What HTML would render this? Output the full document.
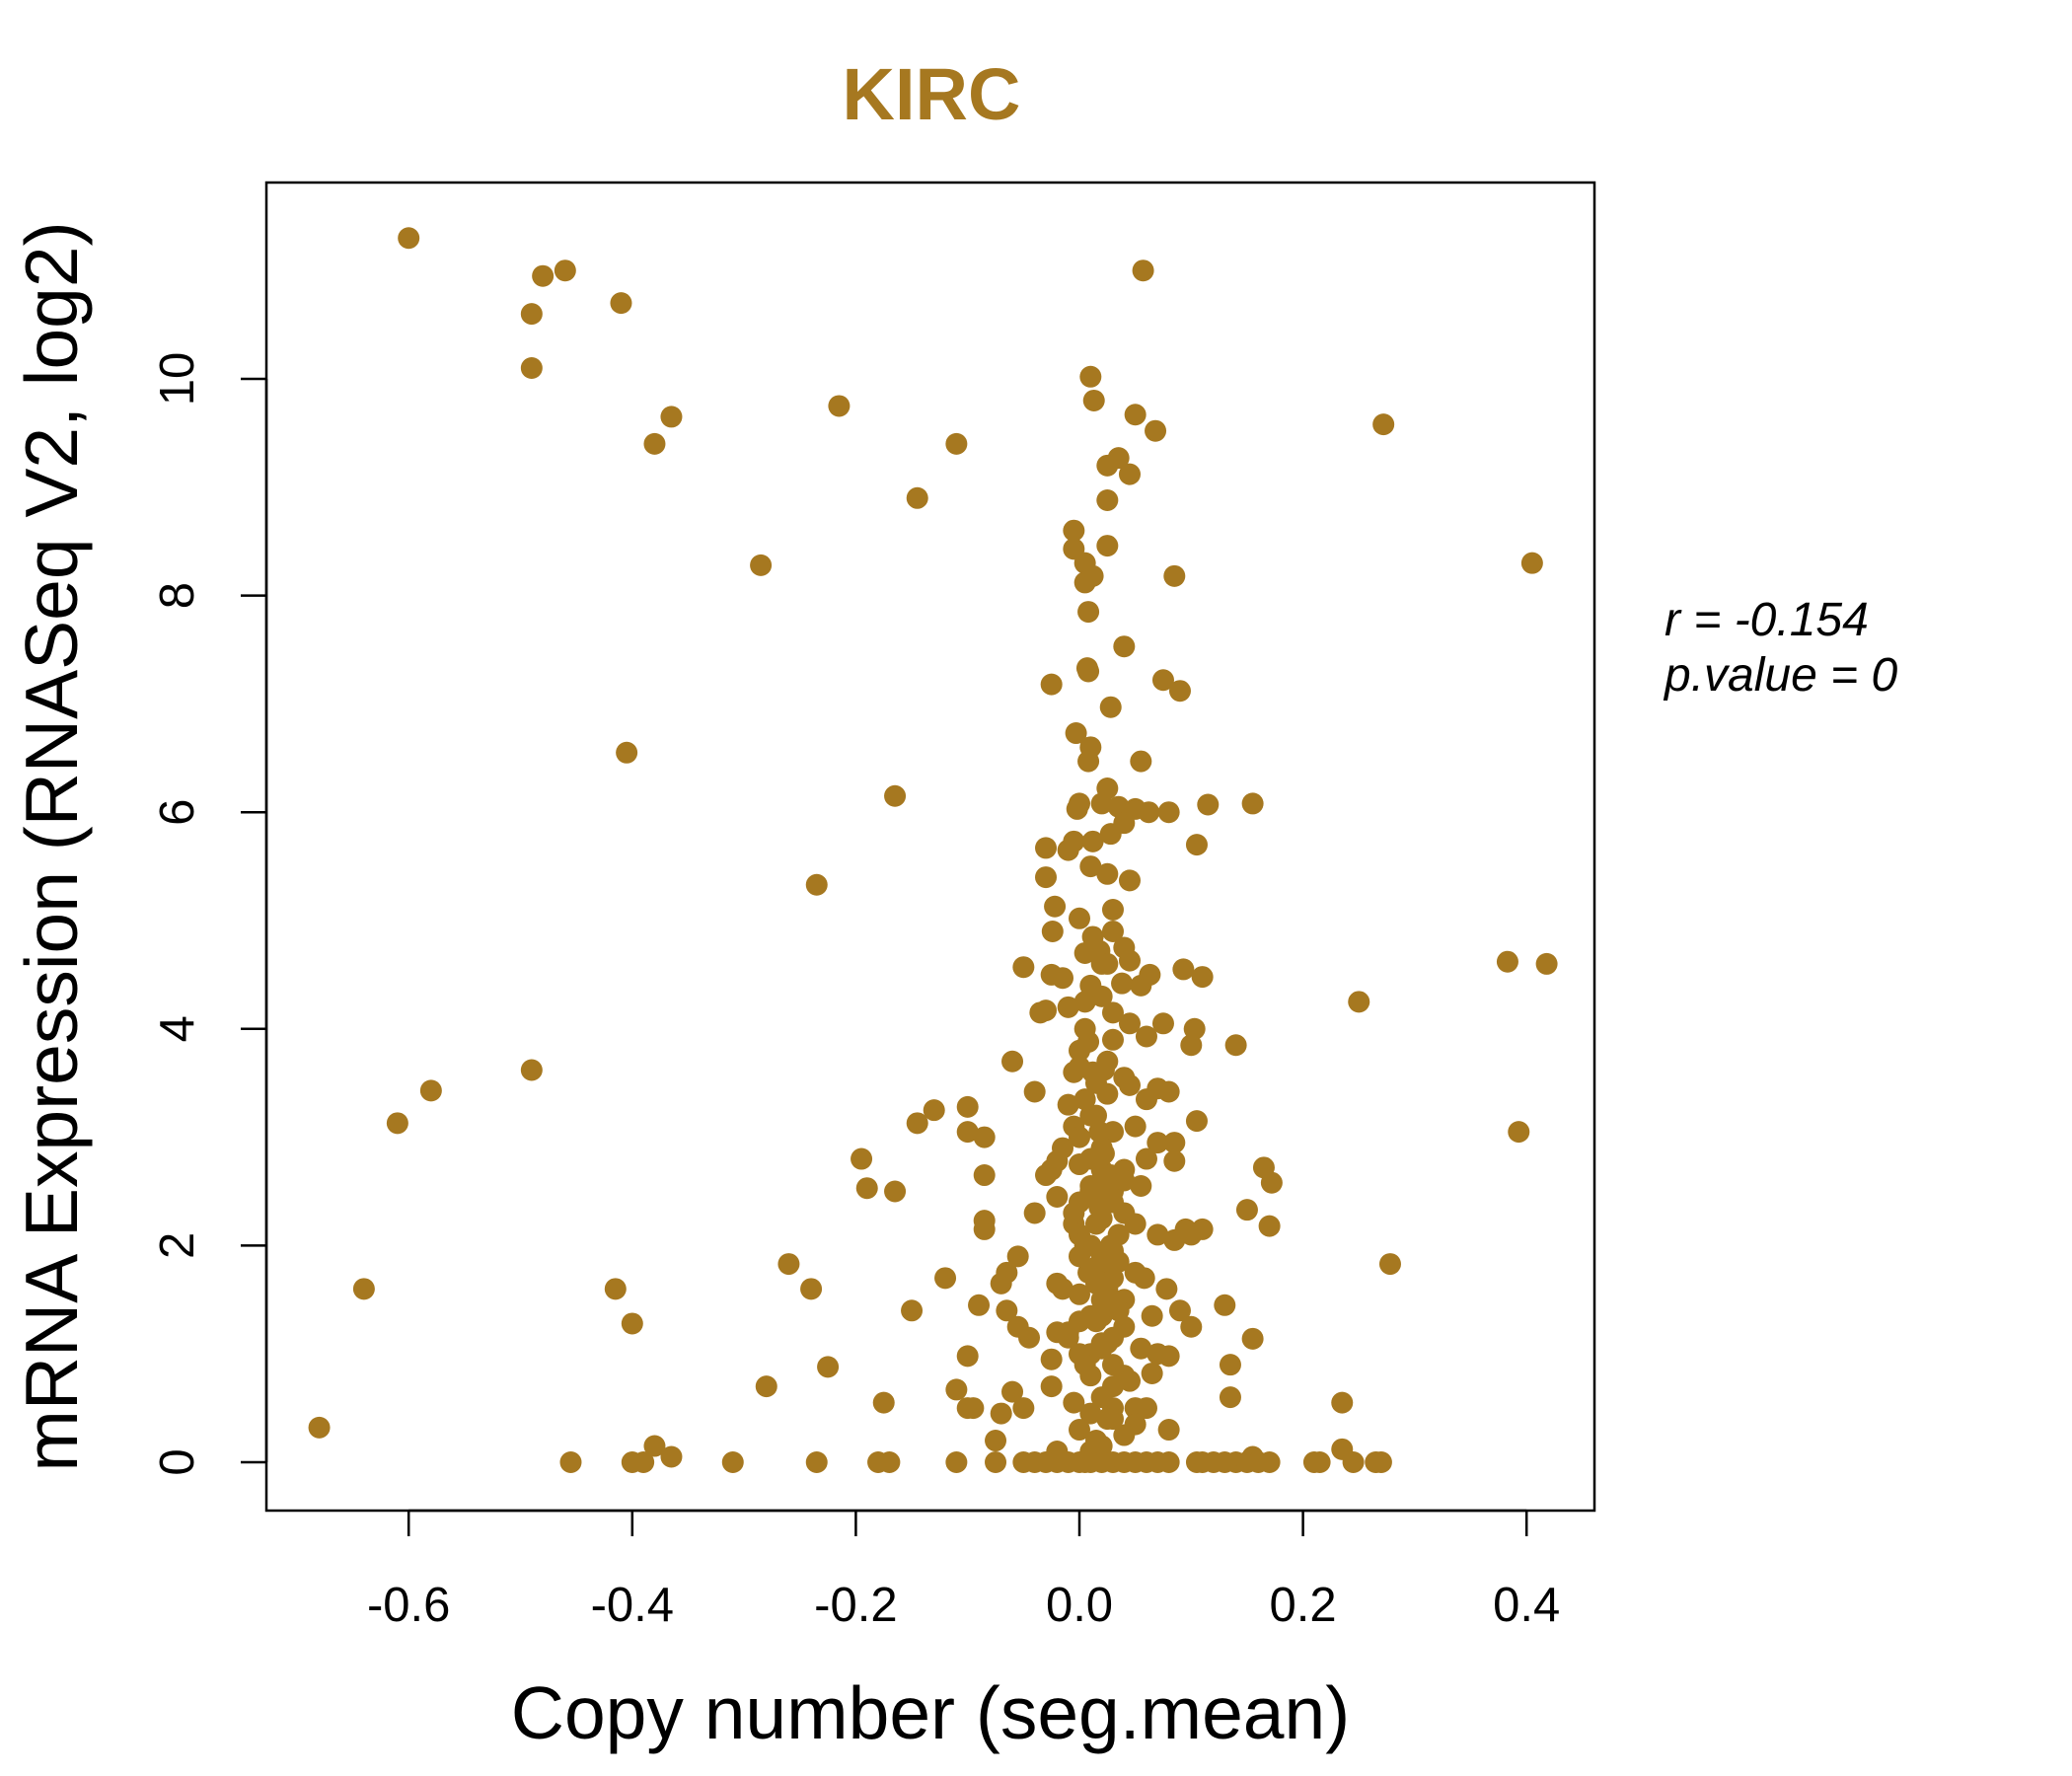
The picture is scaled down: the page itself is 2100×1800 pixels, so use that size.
<!DOCTYPE html>
<html><head><meta charset="utf-8"><style>
html,body{margin:0;padding:0;background:#fff}
svg{display:block}
text{font-family:"Liberation Sans",sans-serif}
</style></head><body>
<svg id="chart" width="2100" height="1800" viewBox="0 0 2100 1800">
<text x="944" y="121" text-anchor="middle" font-size="74" font-weight="bold" fill="#A67820">KIRC</text>
<rect x="270" y="185" width="1346" height="1346" fill="none" stroke="#000" stroke-width="2.5"/>
<g id="xaxis"></g>
<g id="yaxis"></g>
<g id="points"></g>
<text x="943" y="1762" text-anchor="middle" font-size="75">Copy number (seg.mean)</text>
<text transform="translate(78,858) rotate(-90)" text-anchor="middle" font-size="75">mRNA Expression (RNASeq V2, log2)</text>
<text x="1687" y="644" font-size="48" font-style="italic">r = -0.154</text>
<text x="1687" y="700" font-size="48" font-style="italic">p.value = 0</text>
</svg>
<script>
const xTicks=[-0.6,-0.4,-0.2,0.0,0.2,0.4];
const xTickLabels=["-0.6","-0.4","-0.2","0.0","0.2","0.4"];
const yTicks=[0,2,4,6,8,10];
const yTickLabels=["0","2","4","6","8","10"];
const xVals=[-0.6,-0.49,-0.48,-0.46,-0.49,-0.41,-0.38,-0.365,-0.215,-0.11,-0.145,-0.285,-0.405,-0.165,-0.235,-0.49,-0.58,-0.61,-0.64,-0.68,-0.415,-0.4,-0.38,-0.4,-0.39,-0.365,-0.455,-0.31,-0.235,-0.28,-0.26,-0.24,-0.225,-0.195,-0.19,-0.165,-0.175,-0.18,-0.17,-0.15,-0.12,-0.145,-0.13,-0.1,-0.1,-0.085,-0.085,-0.085,-0.085,-0.11,-0.11,-0.1,-0.1,-0.095,-0.09,-0.075,-0.075,-0.07,-0.065,-0.07,-0.065,-0.055,-0.06,-0.05,-0.055,-0.06,-0.05,-0.04,-0.04,-0.045,
0.057,0.01,0.013,0.05,0.068,0.272,0.405,0.035,0.025,0.045,0.025,-0.005,0.025,-0.005,0.005,0.012,0.005,0.085,0.008,0.04,0.008,0.007,-0.025,0.075,0.09,0.028,-0.003,0.01,0.008,0.055,0.025,0.02,0.0,0.115,0.155,-0.002,0.035,0.05,0.062,0.08,0.04,0.028,0.012,-0.005,-0.03,-0.01,0.105,0.01,0.025,0.045,-0.03,-0.022,0.0,0.03,-0.024,0.012,0.03,0.005,0.018,0.04,0.045,0.025,0.063,0.093,0.11,-0.015,-0.025,0.055,0.038,0.02,-0.01,-0.035,-0.03,0.005,0.03,0.045,0.075,0.103,0.06,0.03,0.008,0.1,0.14,-0.005,0.0,0.022,0.04,0.045,0.07,0.08,0.06,0.005,0.015,0.105,-0.005,0.03,0.05,0.085,0.07,0.06,0.085,0.02,0.04,-0.02,-0.025,0.0,-0.03,0.01,0.03,0.055,0.165,0.172,-0.02,0.0,0.02,0.04,0.15,0.17,0.05,0.0,0.07,0.085,0.095,0.1,0.11,0.01,0.03,0.035,0.015,0.05,0.058,0.078,-0.015,-0.02,0.0,0.02,0.04,0.13,0.02,0.065,0.09,0.1,0.0,0.04,-0.02,-0.01,0.155,0.02,0.055,0.07,0.08,0.01,-0.025,0.03,0.135,0.04,0.045,0.065,-0.025,0.135,-0.005,0.03,0.05,0.06,0.01,0.025,0.05,0.08,0.0,0.04,0.02,0.01,-0.02,0.235,0.278,0.25,0.383,0.418,0.393,0.235,0.155,
-0.01,0.0,0.01,0.02,0.03,-0.005,0.005,0.015,0.025,0.035,-0.01,0.0,0.01,0.02,0.03,0.015,0.025,0.005,-0.015,0.035,0.01,0.02,0.0,0.03,0.015,0.025,-0.005,0.04,0.01,0.02,0.005,0.03,0.015,0.02,0.01,0.025,0.0,0.015,0.03,0.02,
0.012,0.022,0.018,0.028,0.008,0.015,0.025,0.02,0.01,0.03,0.018,0.022,0.012,0.028,0.02,
-0.05,-0.04,-0.03,-0.02,-0.01,0.0,0.005,0.01,0.02,0.03,0.04,0.05,0.06,0.07,0.08,0.105,0.11,0.12,0.13,0.14,0.15,0.16,0.17,0.21,0.215,0.245,0.265,0.27];
const yVals=[11.3,10.6,10.95,11.0,10.1,10.7,9.4,9.65,9.75,9.4,8.9,8.28,6.55,6.15,5.33,3.62,3.43,3.13,1.6,0.32,1.6,1.28,0.15,0,0,0.05,0,0,0,0.7,1.83,1.6,0.88,2.8,2.53,2.5,0.55,0,0,1.4,1.7,3.13,3.25,3.28,3.05,3.0,2.65,2.23,2.15,0,0.67,0.98,0.5,0.5,1.45,0.2,0,0.45,1.4,1.65,1.75,1.9,0.65,0.5,1.25,3.7,4.57,3.42,2.3,1.15,
11.0,10.02,9.8,9.67,9.52,9.58,8.3,9.27,9.2,9.12,8.88,8.6,8.46,8.43,8.3,8.18,8.12,8.18,7.85,7.53,7.3,7.33,7.18,7.22,7.12,6.97,6.73,6.6,6.47,6.47,6.22,6.08,6.08,6.07,6.08,6.03,6.05,6.03,6.0,6.0,5.9,5.8,5.73,5.73,5.67,5.65,5.7,5.5,5.43,5.37,5.4,5.13,5.02,5.1,4.9,4.85,4.9,4.7,4.72,4.75,4.63,4.6,4.5,4.55,4.48,4.47,4.5,4.4,4.42,4.3,4.2,4.15,4.17,4.25,4.15,4.05,4.05,4.0,3.93,3.9,3.88,3.85,3.85,3.6,3.65,3.62,3.55,3.48,3.45,3.42,3.35,3.35,3.2,3.15,3.1,3.05,3.1,2.95,2.95,2.8,2.78,2.9,2.7,2.78,2.7,2.75,2.65,2.55,2.5,2.55,2.72,2.58,2.45,2.4,2.35,2.3,2.33,2.18,2.2,2.1,2.1,2.05,2.15,2.1,2.15,2.0,1.95,1.85,1.8,1.75,1.7,1.6,1.6,1.65,1.55,1.5,1.5,1.45,1.35,1.35,1.4,1.25,1.3,1.25,1.2,1.15,1.14,1.1,1.05,1.0,0.98,1.0,0.95,0.9,0.9,0.8,0.75,0.82,0.7,0.6,0.55,0.5,0.5,0.5,0.45,0.4,0.35,0.3,0.3,0.25,0.15,0.1,0.1,0.55,1.83,4.25,4.62,4.6,3.05,0.12,0.05,
3.3,3.0,2.8,2.6,2.4,2.2,2.0,1.8,1.6,1.4,1.2,1.0,0.8,0.6,0.4,3.5,3.7,4.0,2.9,2.1,2.5,2.7,1.9,1.7,1.3,1.1,2.3,2.6,4.4,4.6,0.9,1.5,2.2,2.9,3.2,3.4,3.8,0.2,0.7,1.9,
2.45,2.55,2.35,2.65,1.75,1.65,1.85,2.25,1.35,1.15,3.05,2.85,3.6,2.0,1.05,
0,0,0,0,0,0,0,0,0,0,0,0,0,0,0,0,0,0,0,0,0,0,0,0,0,0,0,0];
const X=v=>1094+v*1133;
const Y=v=>1482-v*109.8;
const NS="http://www.w3.org/2000/svg";
const xa=document.getElementById('xaxis'),ya=document.getElementById('yaxis'),pg=document.getElementById('points');
function mk(t,a){const e=document.createElementNS(NS,t);for(const k in a)e.setAttribute(k,a[k]);return e;}
const xl=mk('line',{x1:X(xTicks[0]),x2:X(xTicks[xTicks.length-1]),y1:1531,y2:1531,stroke:'#000','stroke-width':2.5});


xa.appendChild(xl);
xTicks.forEach((t,i)=>{
  const l=mk('line',{x1:X(t),x2:X(t),y1:1531,y2:1557,stroke:'#000','stroke-width':2.5});
  
  
  xa.appendChild(l);
  const tx=mk('text',{x:X(t),y:1643,'text-anchor':'middle','font-size':49});
  tx.textContent=xTickLabels[i];
  
  
  xa.appendChild(tx);
});
const yl=mk('line',{x1:270,x2:270,y1:Y(yTicks[0]),y2:Y(yTicks[yTicks.length-1]),stroke:'#000','stroke-width':2.5});


ya.appendChild(yl);
yTicks.forEach((t,i)=>{
  const l=mk('line',{x1:244,x2:270,y1:Y(t),y2:Y(t),stroke:'#000','stroke-width':2.5});
  
  
  ya.appendChild(l);
  const tx=mk('text',{transform:`translate(196,${Y(t)}) rotate(-90)`,'text-anchor':'middle','font-size':49});
  tx.textContent=yTickLabels[i];
  
  
  ya.appendChild(tx);
});
xVals.forEach((v,i)=>{
  const c=mk('circle',{cx:X(v),cy:Y(yVals[i]),r:11,fill:'#A67820'});
  
  
  pg.appendChild(c);
});
</script>
</body></html>
